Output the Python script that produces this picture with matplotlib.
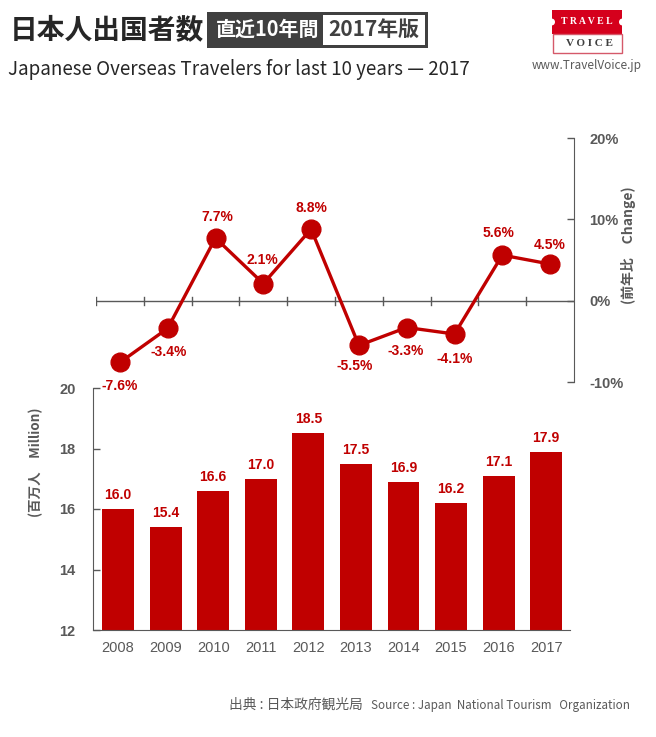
import matplotlib
matplotlib.use('Agg')
import matplotlib.pyplot as plt
from matplotlib.patches import Rectangle, Circle

plt.rcParams['font.family'] = ['Noto Sans CJK JP', 'DejaVu Sans']

W, H = 656, 737
RED = '#c00000'
GREY = '#595959'

years = ['2008', '2009', '2010', '2011', '2012', '2013', '2014', '2015', '2016', '2017']
travelers = [16.0, 15.4, 16.6, 17.0, 18.5, 17.5, 16.9, 16.2, 17.1, 17.9]
change = [-7.6, -3.4, 7.7, 2.1, 8.8, -5.5, -3.3, -4.1, 5.6, 4.5]
change_labels = ['-7.6%', '-3.4%', '7.7%', '2.1%', '8.8%', '-5.5%', '-3.3%', '-4.1%', '5.6%', '4.5%']
bar_ticks = [12, 14, 16, 18, 20]
change_ticks = [-10, 0, 10, 20]
change_ticklabels = ['-10%', '0%', '10%', '20%']


def axes_px(left, top, right, bottom):
    return fig.add_axes([left / W, 1 - bottom / H, (right - left) / W, (bottom - top) / H])


def text_px(x, y, s, **kw):
    kw.setdefault('va', 'center')
    return fig.text(x / W, 1 - y / H, s, **kw)


def box_px(left, top, right, bottom, **kw):
    fig.add_artist(Rectangle((left / W, 1 - bottom / H), (right - left) / W, (bottom - top) / H,
                             transform=fig.transFigure, **kw))


fig = plt.figure(figsize=(W / 100, H / 100), dpi=100)

# bars
ax = axes_px(93.5, 388, 570, 630)
pos = list(range(len(years)))
ax.bar(pos, travelers, width=0.67, color=RED, zorder=2)
ax.set_xlim(-0.515, 9.5)
ax.set_ylim(12, 20)
ax.set_yticks(bar_ticks)
ax.set_xticks(pos)
ax.set_xticklabels(years, fontsize=10.5, color=GREY, family=['Liberation Sans'])
ax.tick_params(axis='x', length=0, pad=8)
ax.tick_params(axis='y', length=5, width=1, color=GREY, direction='in', pad=13)
for lab in ax.get_yticklabels():
    lab.set(fontsize=10.5, fontweight='bold', color=GREY, family=['Liberation Sans'])
for s in ['top', 'right']:
    ax.spines[s].set_visible(False)
for s in ['left', 'bottom']:
    ax.spines[s].set_color(GREY)
for x, v in zip(pos, travelers):
    ax.annotate(f'{v:.1f}', (x, v), xytext=(0, 5), textcoords='offset points', ha='center', va='bottom',
                fontsize=10, fontweight='bold', color=RED, family=['Liberation Sans'])

# change line
ax2 = axes_px(96, 138, 574, 382)
ax2.patch.set_alpha(0)
ax2.plot(pos, change, color=RED, lw=2.4, marker='o', ms=13.5, mfc=RED, mec=RED, zorder=3, clip_on=False)
ax2.set_xlim(-0.5, 9.5)
ax2.set_ylim(-10, 20)
ax2.set_yticks(change_ticks)
ax2.set_yticklabels(change_ticklabels)
ax2.tick_params(axis='y', length=5, width=1, color=GREY, direction='in', pad=11,
                left=False, labelleft=False, right=True, labelright=True)
for tick in ax2.yaxis.get_major_ticks():
    tick.label2.set(fontsize=10.5, fontweight='bold', color=GREY, family=['Liberation Sans'])
for s in ['top', 'left', 'bottom']:
    ax2.spines[s].set_visible(False)
ax2.spines['right'].set_color(GREY)
# zero line with category ticks
ax2.axhline(0, color=GREY, lw=1, zorder=1)
ax2.set_xticks([])
for b in range(len(years)):
    ax2.plot([b - 0.5, b - 0.5], [-0.5, 0.5], color=GREY, lw=1, zorder=1)

label_dy = [-17, -17, 15, 17, 15, -15, -17, -18, 16, 14]
label_dx = [0, 1, 1, -1, 0, -3, -1, 0, -3, 0]
for x, v, s, dy, dx in zip(pos, change, change_labels, label_dy, label_dx):
    ax2.annotate(s, (x, v), xytext=(dx, dy), textcoords='offset points', ha='center', va='center',
                 fontsize=10, fontweight='bold', color=RED, family=['Liberation Sans'], zorder=4)

# axis titles
text_px(36, 462, '(百万人\u3000Million)', rotation=90, ha='center', fontsize=9.7, fontweight='bold', color=GREY)
text_px(629, 245, '(前年比\u3000Change)', rotation=90, ha='center', fontsize=10, fontweight='bold', color=GREY)

# header
text_px(10, 30, '日本人出国者数', fontsize=20, fontweight='bold', color='#262626')
box_px(207, 12, 428, 48, facecolor='#404040', edgecolor='none')
box_px(323, 15, 425, 45, facecolor='white', edgecolor='none')
text_px(268, 29, '直近10年間', ha='center', fontsize=14.4, fontweight='bold', color='white')
text_px(374, 29, '2017年版', ha='center', fontsize=15, fontweight='bold', color='#404040')
text_px(8, 70, 'Japanese Overseas Travelers for last 10 years — 2017', fontsize=13.5, color='#262626')

# logo
box_px(552, 10, 622, 34, facecolor='#d5001c', edgecolor='none')
box_px(552.5, 34, 621.5, 53, facecolor='white', edgecolor='#d5596a', lw=1)
for cx in (552, 622):
    fig.add_artist(Circle((cx / W, 1 - 22 / H), 3 / W, transform=fig.transFigure, facecolor='white', edgecolor='none'))
text_px(587, 21, 'T R A V E L', ha='center', fontsize=7, color='white', family=['Liberation Serif'], fontweight='bold')
text_px(589, 44, 'V O I C E', ha='center', fontsize=8, color='#404040', family=['Liberation Serif'], fontweight='bold')
text_px(587, 65, 'www.TravelVoice.jp', ha='center', fontsize=8.5, color=GREY)

# source
text_px(229, 705, '出典 : 日本政府観光局', fontsize=9.9, color=GREY)
text_px(371, 705, 'Source : Japan  National Tourism   Organization', fontsize=8.4, color=GREY)

fig.savefig('out.png', dpi=100)
